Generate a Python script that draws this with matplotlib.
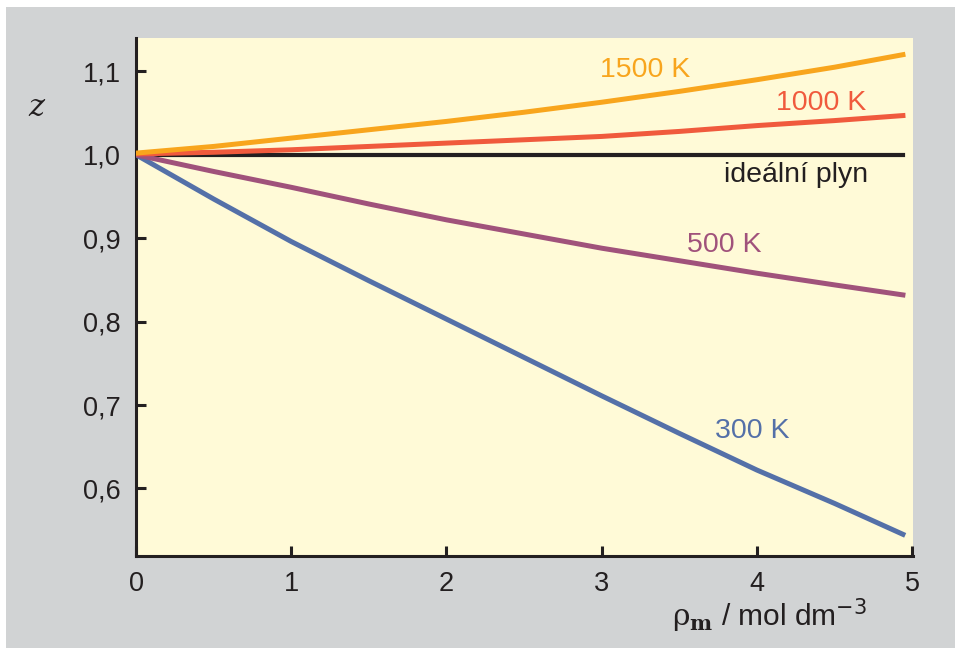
import numpy as np
import matplotlib.pyplot as plt
from matplotlib.patches import Rectangle

plt.rcParams['font.family'] = ['Liberation Sans', 'DejaVu Sans']
plt.rcParams['mathtext.fontset'] = 'dejavuserif'

# data
rho = [0, 0.5, 1, 1.5, 2, 2.5, 3, 3.5, 4, 4.5, 4.94]
z_1500 = [1.002, 1.010, 1.020, 1.030, 1.040, 1.051, 1.063, 1.076, 1.090, 1.105, 1.120]
z_1000 = [1.001, 1.003, 1.006, 1.010, 1.014, 1.018, 1.022, 1.028, 1.035, 1.041, 1.047]
z_ideal = [1.0, 1.0, 1.0, 1.0, 1.0, 1.0, 1.0, 1.0, 1.0, 1.0, 1.0]
z_500 = [1.0, 0.980, 0.961, 0.941, 0.922, 0.905, 0.888, 0.873, 0.858, 0.844, 0.832]
z_300 = [1.0, 0.947, 0.896, 0.849, 0.803, 0.757, 0.711, 0.666, 0.622, 0.582, 0.545]

xticks = [0, 1, 2, 3, 4, 5]
yticks = [0.6, 0.7, 0.8, 0.9, 1.0, 1.1]
ytick_labels = ['0,6', '0,7', '0,8', '0,9', '1,0', '1,1']

c_orange = '#f8a51d'
c_red = '#f05a3d'
c_purple = '#a0527b'
c_blue = '#5470a8'
c_black = '#231f20'

fig = plt.figure(figsize=(9.57, 6.49), dpi=100)
fig.patch.set_facecolor('white')
fig.patches.append(Rectangle((6/957, 1/649), 949/957, 641/649, transform=fig.transFigure,
                             facecolor='#d1d3d4', edgecolor='none', zorder=-10))

ax = fig.add_axes([136/957, 93/649, 777/957, 518/649])
ax.set_facecolor('#fffad7')

lw = 3.6
ax.plot(rho, z_ideal, color=c_black, lw=3.0, zorder=2)
ax.plot(rho, z_300, color=c_blue, lw=lw, zorder=3)
ax.plot(rho, z_500, color=c_purple, lw=lw, zorder=3)
ax.plot(rho, z_1000, color=c_red, lw=lw, zorder=4)
ax.plot(rho, z_1500, color=c_orange, lw=lw, zorder=5)

fs = 20.5
ax.text(3.28, 1.102, '1500 K', color=c_orange, fontsize=fs, ha='center', va='center')
ax.text(4.41, 1.062, '1000 K', color=c_red, fontsize=fs, ha='center', va='center')
ax.text(4.25, 0.976, 'ideální plyn', color=c_black, fontsize=fs, ha='center', va='center')
ax.text(3.79, 0.892, '500 K', color=c_purple, fontsize=fs, ha='center', va='center')
ax.text(3.97, 0.669, '300 K', color=c_blue, fontsize=fs, ha='center', va='center')

ax.set_xlim(0, 5.005)
ax.set_ylim(0.519, 1.140)
ax.set_xticks(xticks)
ax.set_yticks(yticks)
ax.set_yticklabels(ytick_labels)

for s in ['top', 'right']:
    ax.spines[s].set_visible(False)
for s in ['left', 'bottom']:
    ax.spines[s].set_linewidth(2.2)
    ax.spines[s].set_color(c_black)

ax.tick_params(direction='in', length=7, width=2.2, color=c_black,
               labelsize=19.5, labelcolor=c_black)
ax.tick_params(axis='y', pad=11)
ax.tick_params(axis='x', pad=11)

fig.text(37/957, 1 - 108/649, r'$z$', fontsize=22,
         ha='center', va='center', color=c_black)
fig.text(770/957, 1 - 615/649, r'$\mathrm{\rho}_\mathbf{m}$ / mol dm$^{\mathsf{-3}}$',
         fontsize=21.5, ha='center', va='center', color=c_black)

fig.savefig('out.png', dpi=100, facecolor=fig.get_facecolor())
